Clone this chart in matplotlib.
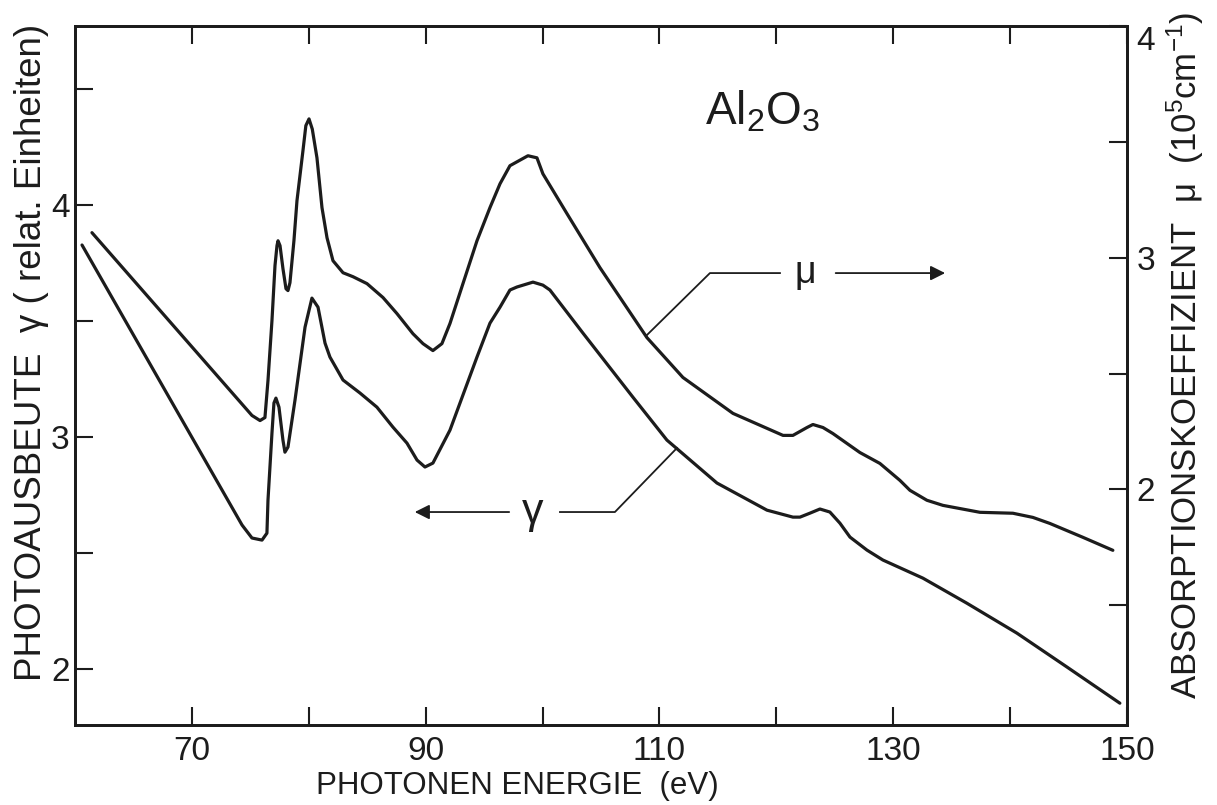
import matplotlib
matplotlib.use("Agg")
import matplotlib.pyplot as plt
from matplotlib.ticker import FixedLocator

# Data (photon energy in eV)
mu_energy = [61.45, 75.14, 75.83, 76.25, 76.51, 76.85, 77.11, 77.28, 77.37, 77.54,
             77.79, 78.05, 78.22, 78.39, 78.73, 78.99, 79.50, 79.75, 80.02, 80.30,
             80.70, 81.13, 81.56, 82.07, 82.93, 83.78, 84.98, 86.35, 87.54, 88.91,
             89.77, 90.62, 91.39, 92.08, 93.19, 94.39, 95.50, 96.36, 97.21, 98.75,
             99.52, 100.03, 102.09, 104.91, 108.93, 112.01, 116.29, 120.57, 121.42,
             122.62, 123.13, 123.99, 124.84, 127.15, 128.86, 130.57, 131.43, 132.88,
             134.25, 137.42, 140.24, 141.95, 143.40, 146.23, 148.79]
mu_values = [3.108, 2.319, 2.297, 2.310, 2.470, 2.728, 2.966, 3.052, 3.073, 3.052,
             2.953, 2.866, 2.858, 2.892, 3.073, 3.246, 3.461, 3.570, 3.599, 3.555,
             3.431, 3.216, 3.086, 2.987, 2.935, 2.918, 2.888, 2.828, 2.759, 2.672,
             2.629, 2.599, 2.629, 2.716, 2.888, 3.073, 3.216, 3.319, 3.397, 3.440,
             3.431, 3.362, 3.190, 2.957, 2.655, 2.483, 2.328, 2.233, 2.233,
             2.267, 2.280, 2.267, 2.241, 2.159, 2.112, 2.039, 1.996, 1.953,
             1.931, 1.901, 1.897, 1.879, 1.853, 1.793, 1.737]

gamma_energy = [60.60, 74.29, 75.14, 76.00, 76.42, 76.51, 76.85, 77.02, 77.19, 77.45,
                77.79, 77.96, 78.22, 78.82, 79.68, 80.27, 80.79, 81.39, 81.81, 82.93,
                84.38, 85.83, 87.20, 88.40, 89.26, 89.94, 90.62, 92.08, 94.39, 95.50,
                96.36, 97.21, 97.81, 99.18, 100.03, 100.63, 103.46, 107.73, 110.64,
                114.92, 119.20, 121.42, 122.02, 122.87, 123.73, 124.58, 125.44, 126.30,
                127.75, 129.12, 132.54, 136.30, 140.58, 144.86, 149.39]
gamma_values = [3.828, 2.621, 2.565, 2.556, 2.586, 2.728, 3.017, 3.147, 3.168, 3.129,
                2.987, 2.935, 2.957, 3.159, 3.474, 3.599, 3.560, 3.405, 3.345, 3.246,
                3.190, 3.129, 3.043, 2.974, 2.901, 2.871, 2.888, 3.030, 3.345, 3.491,
                3.560, 3.634, 3.647, 3.668, 3.655, 3.634, 3.448, 3.172, 2.987,
                2.802, 2.685, 2.655, 2.655, 2.672, 2.690, 2.677, 2.629, 2.569,
                2.513, 2.470, 2.392, 2.284, 2.155, 2.009, 1.853]

x_major = [70, 90, 110, 130, 150]
x_minor = [80, 100, 120, 140]
left_major = [2, 3, 4]
left_minor = [2.5, 3.5, 4.5]
right_major = [2, 3, 4]
right_minor = [1.5, 2.5, 3.5]

plt.rcParams['mathtext.fontset'] = 'custom'
plt.rcParams['mathtext.rm'] = 'Liberation Sans'
plt.rcParams['mathtext.it'] = 'Liberation Sans'

ink = '#1c1c1c'
font = ['Liberation Sans', 'DejaVu Sans']

fig = plt.figure(figsize=(12.17, 8.05), dpi=100)
ax = fig.add_axes([75 / 1217, 80 / 805, (1127 - 75) / 1217, (779 - 80) / 805])
ax2 = ax.twinx()

ax.plot(gamma_energy, gamma_values, color=ink, lw=2.3,
        solid_capstyle='round', solid_joinstyle='round')
ax2.plot(mu_energy, mu_values, color=ink, lw=2.3,
         solid_capstyle='round', solid_joinstyle='round')

ax.set_xlim(60, 150)
ax.set_ylim(1.759, 4.772)
ax2.set_ylim(0.983, 4.0)

ax.xaxis.set_major_locator(FixedLocator(x_major))
ax.xaxis.set_minor_locator(FixedLocator(x_minor))
ax.yaxis.set_major_locator(FixedLocator(left_major))
ax.yaxis.set_minor_locator(FixedLocator(left_minor))
ax2.yaxis.set_major_locator(FixedLocator(right_major))
ax2.yaxis.set_minor_locator(FixedLocator(right_minor))

for a in (ax, ax2):
    for s in a.spines.values():
        s.set_linewidth(2.0)
        s.set_color(ink)
ax.tick_params(axis='x', which='both', direction='in', top=True, length=13,
               width=1.5, color=ink, pad=8)
ax.tick_params(axis='y', which='both', direction='in', length=13, width=1.5,
               color=ink, pad=4)
ax2.tick_params(axis='y', which='both', direction='in', length=13, width=1.5,
                color=ink, pad=7)
for lab in ax.get_xticklabels() + ax.get_yticklabels() + ax2.get_yticklabels():
    lab.set_family(font)
    lab.set_fontsize(24)
    lab.set_color(ink)
# the top "4" of the right axis sits just below the corner
ax2.get_yticklabels()[-1].set_va('top')

# axis titles
fig.text(32 / 1217, 1 - 352 / 805, 'PHOTOAUSBEUTE  γ ( relat. Einheiten)',
         rotation=90, ha='center', va='center', fontsize=26.5, family=font, color=ink)
fig.text(1185 / 1217, 1 - 355 / 805,
         'ABSORPTIONSKOEFFIZIENT  μ  (10$^5$cm$^{-1}$)',
         rotation=90, ha='center', va='center', fontsize=25, family=font, color=ink)
fig.text(517 / 1217, 1 - 786 / 805, 'PHOTONEN ENERGIE  (eV)', ha='center',
         va='center', fontsize=22.5, family=font, color=ink)
fig.text(762 / 1217, 1 - 112 / 805, 'Al$_2$O$_3$', ha='center', va='center',
         fontsize=33, family=font, color=ink)

# mu label with leader line and arrow
ax.plot([108.93, 114.32, 120.31], [3.44, 3.707, 3.707], color=ink, lw=1.3)
ax.text(122.45, 3.707, 'μ', ha='center', va='center', fontsize=27, family=font, color=ink)
ax.annotate('', xy=(134.68, 3.707), xytext=(124.84, 3.707),
            arrowprops=dict(arrowstyle='-|>', color=ink, lw=1.3, mutation_scale=22))

# gamma label with leader line and arrow
ax.plot([101.49, 106.19, 111.5], [2.677, 2.677, 2.953], color=ink, lw=1.3)
ax.text(99.18, 2.677, 'γ', ha='center', va='center', fontsize=31, family=font, color=ink)
ax.annotate('', xy=(88.83, 2.677), xytext=(97.38, 2.677),
            arrowprops=dict(arrowstyle='-|>', color=ink, lw=1.3, mutation_scale=22))

fig.savefig('out.png', dpi=100)
